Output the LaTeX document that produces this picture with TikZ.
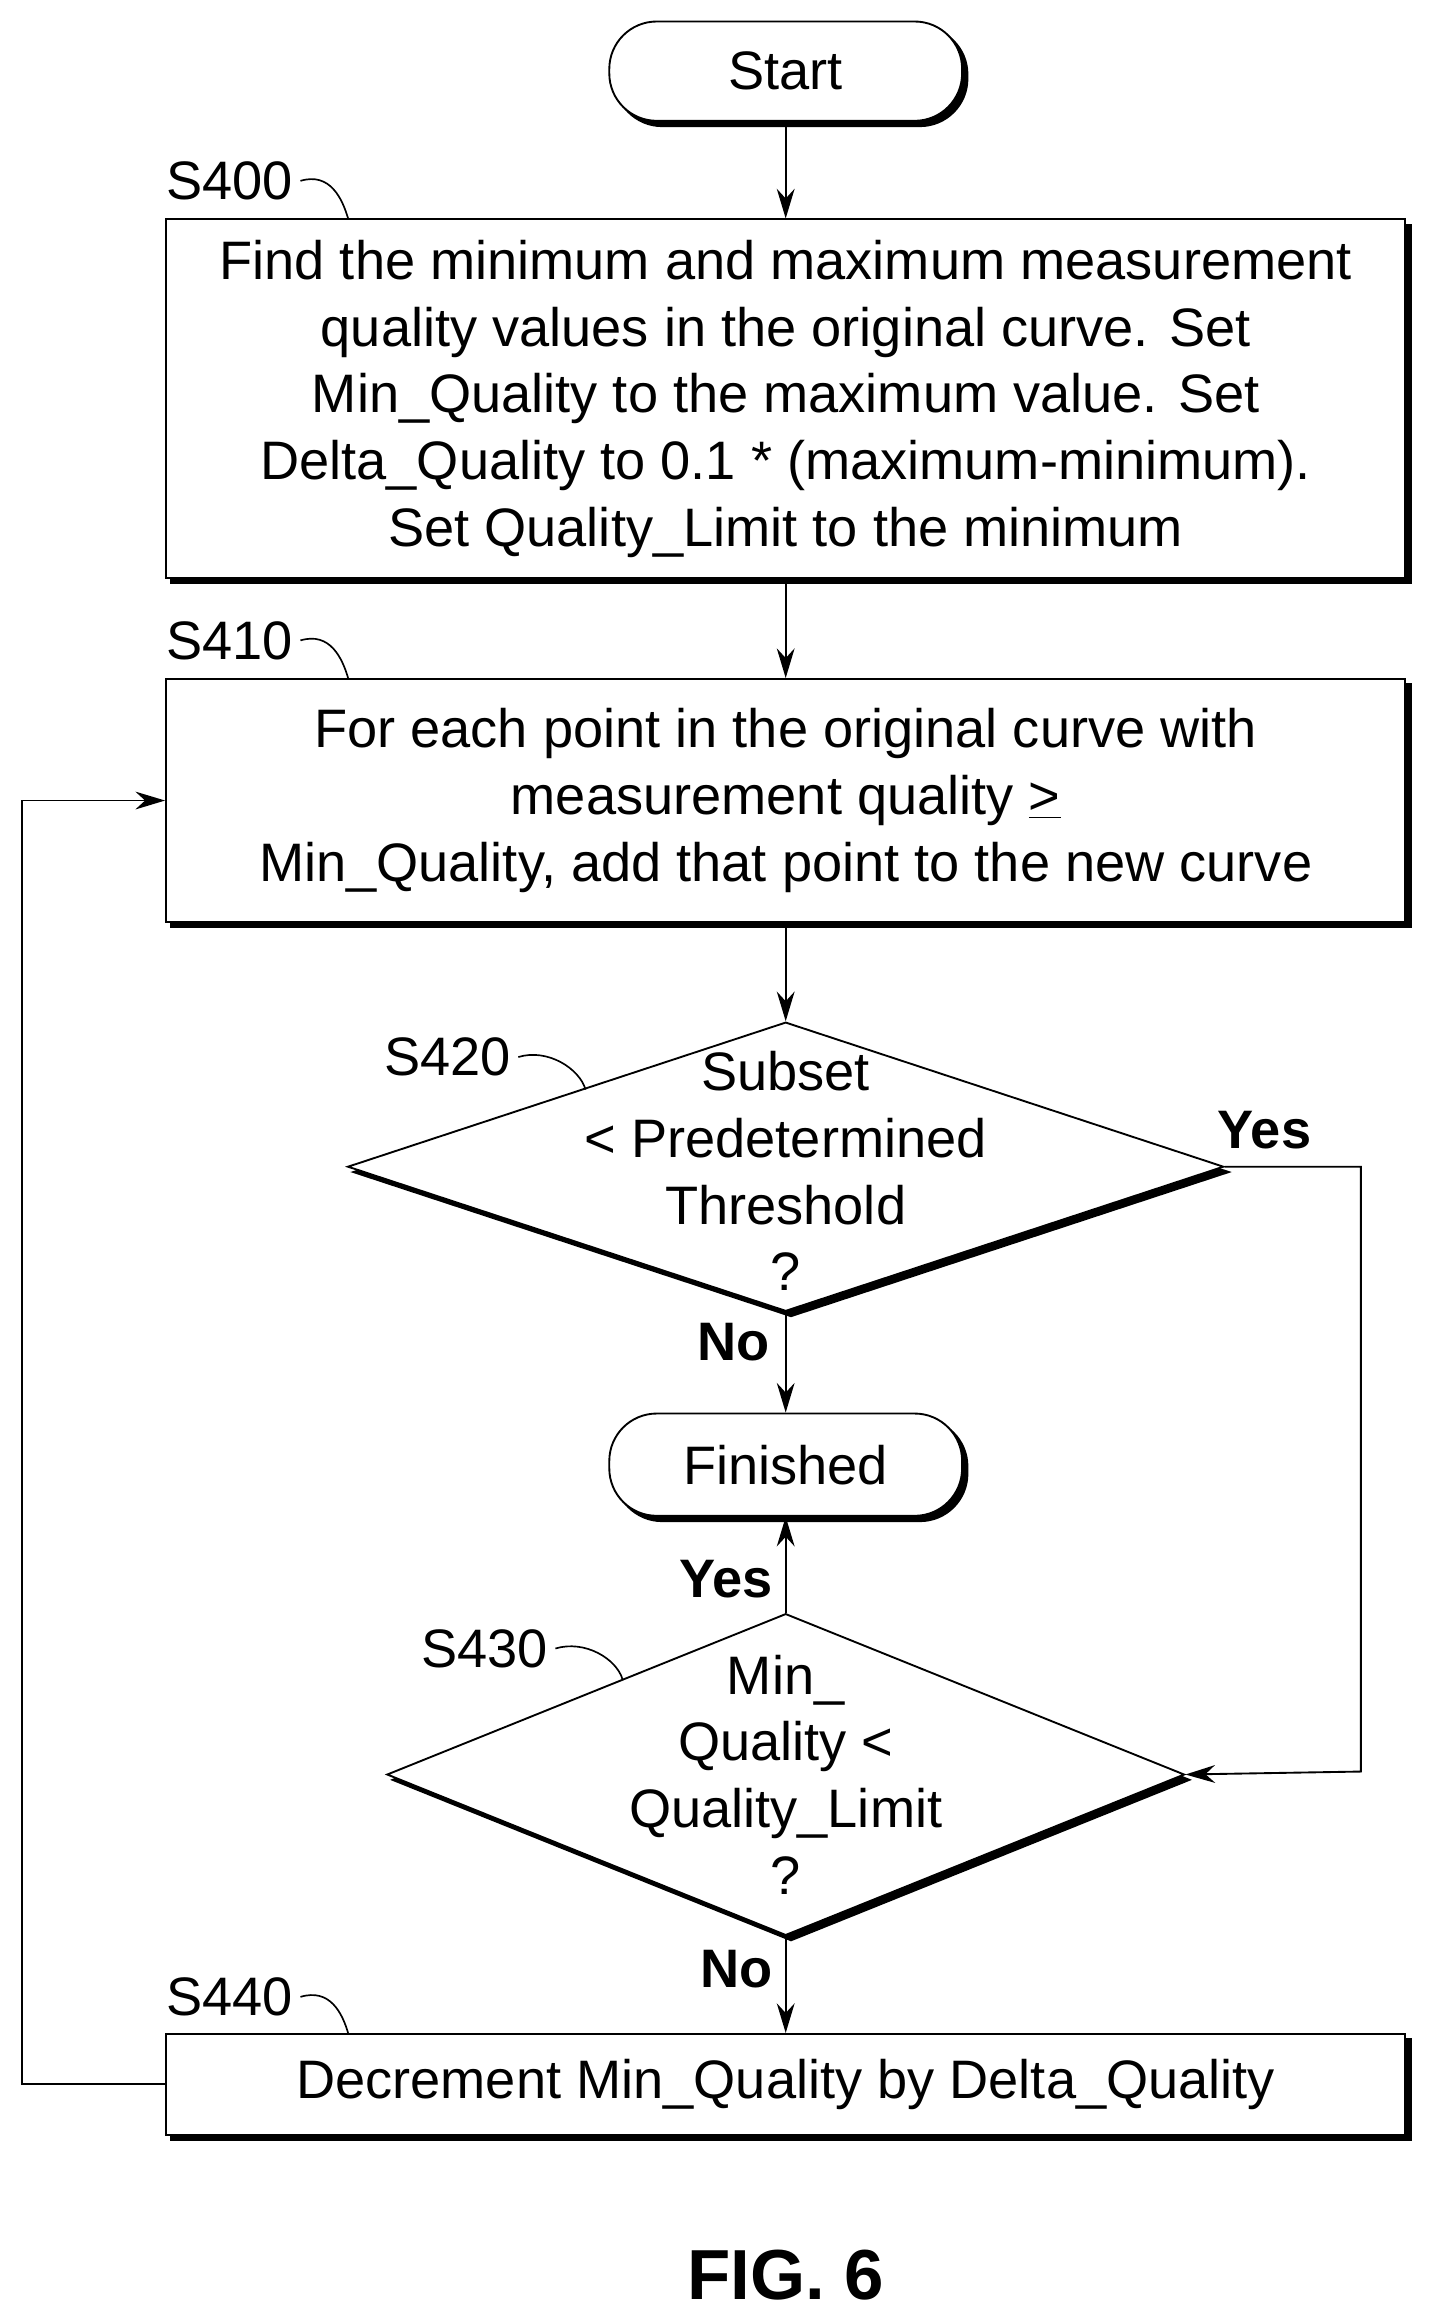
\documentclass[tikz,border=0pt]{standalone}
\usepackage{fontspec}
\setmainfont{Liberation Sans}
\usetikzlibrary{shapes.geometric,shadows,arrows.meta}
\begin{document}
\begin{tikzpicture}[x=0.25mm,y=-0.25mm,
  txt/.style={font=\fontsize{26}{32}\selectfont},
  shd/.style={copy shadow={shadow xshift=0.9mm,shadow yshift=-0.9mm,fill=black,draw=black}},
  box/.style={draw,line width=0.9pt,fill=white,shd,txt,align=center,inner sep=0pt},
  term/.style={box,rounded corners=8mm},
  lab/.style={txt},
  yn/.style={font=\fontsize{26}{32}\selectfont\bfseries},
  arr/.style={line width=0.9pt,-{Stealth[length=5mm,width=3mm]}},
  sq/.style={line width=0.8pt}]
\useasboundingbox (0,0) rectangle (966,1567);
\node[term,minimum width=238*0.25mm,minimum height=67*0.25mm] (start) at (530,48) {Start};
\node[box,minimum width=836*0.25mm,minimum height=242*0.25mm] (b400) at (530,269) {Find the minimum and maximum measurement\\quality values in the original curve. Set\\Min\_Quality to the maximum value. Set\\Delta\_Quality to 0.1 * (maximum-minimum).\\Set Quality\_Limit to the minimum};
\node[box,minimum width=836*0.25mm,minimum height=164*0.25mm] (b410) at (530,540) {For each point in the original curve with\\measurement quality \underline{>}\\Min\_Quality, add that point to the new curve};
\node[draw,line width=0.9pt,fill=white,shd,shape=diamond,aspect=3.03,minimum width=591*0.25mm,minimum height=195*0.25mm,inner sep=0pt] (d420) at (530,787) {};
\node[txt,align=center] (t420) at (530,790) {Subset\\< Predetermined\\Threshold\\?};
\node[term,minimum width=238*0.25mm,minimum height=69*0.25mm] (fin) at (530,988) {Finished};
\node[draw,line width=0.9pt,fill=white,shd,shape=diamond,aspect=2.48,minimum width=538*0.25mm,minimum height=217*0.25mm,inner sep=0pt] (d430) at (530,1197) {};
\node[txt,align=center] (t430) at (530,1197) {Min\_\\Quality <\\Quality\_Limit\\?};
\node[box,minimum width=836*0.25mm,minimum height=68*0.25mm] (b440) at (530,1406) {Decrement Min\_Quality by Delta\_Quality};
\node[lab] (l400) at (155,122) {S400};
\node[lab] (l410) at (155,432) {S410};
\node[lab] (l420) at (302,713) {S420};
\node[lab] (l430) at (327,1112) {S430};
\node[lab] (l440) at (155,1347) {S440};
\coordinate (c400) at (235,148);
\coordinate (c410) at (235,458);
\coordinate (c420) at (395,735);
\coordinate (c430) at (420,1133);
\coordinate (c440) at (235,1372);
\foreach \a/\b in {l400/c400,l410/c410,l420/c420,l430/c430,l440/c440}
  \draw[sq] (\a.east) .. controls +(20,-6) and +(-4,-14) .. (\b);
\draw[arr] (start.south) -- (b400.north);
\draw[arr] (b400.south) -- (b410.north);
\draw[arr] (b410.south) -- (d420.north);
\draw[arr] (d420.south) -- (fin.north);
\draw[arr] (d430.north) -- (fin.south);
\draw[arr] (d430.south) -- (b440.north);
\coordinate (r1) at (918,787);
\coordinate (r2) at (918,1195);
\draw[arr] (d420.east) -- (r1) -- (r2) -- (d430.east);
\coordinate (q1) at (15,1406);
\coordinate (q2) at (15,540);
\draw[arr] (b440.west) -- (q1) -- (q2) -- (b410.west);
\node[yn] (y1) at (853,762) {Yes};
\node[yn] (n1) at (495,905) {No};
\node[yn] (y2) at (490,1065) {Yes};
\node[yn] (n2) at (497,1328) {No};
\node[font=\fontsize{34}{40}\selectfont\bfseries] (fig) at (530,1535) {FIG. 6};
\end{tikzpicture}
\end{document}
